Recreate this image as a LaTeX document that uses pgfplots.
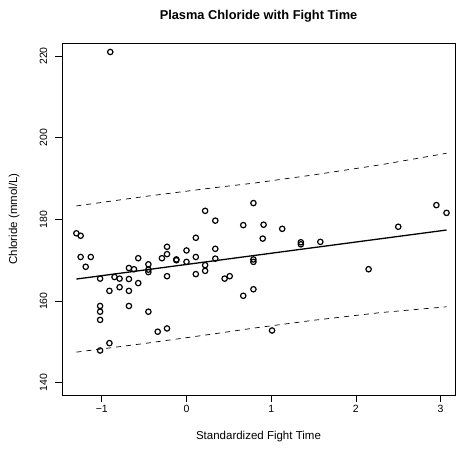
\documentclass[border=0pt]{standalone}
\usepackage{fontspec}
\setmainfont{Liberation Sans}
\usepackage{pgfplots}
\pgfplotsset{compat=1.18}

\begin{document}
\begin{tikzpicture}
\begin{axis}[
    at={(0,0)}, anchor=south west,
    scale only axis,
    width=393pt, height=352pt,
    xmin=-1.47, xmax=3.17,
    ymin=137, ymax=223.2,
    axis line style={line width=0.9pt},
    tick style={line width=0.8pt, black},
    tick align=outside,
    major tick length=6.5pt,
    xtick pos=bottom, ytick pos=left,
    xtick={-1,0,1,2,3},
    xticklabels={−1,0,1,2,3},
    ytick={140,160,180,200,220},
    yticklabels={140,160,180,200,220},
    ticklabel style={font=\fontsize{10.5}{12}\selectfont},
    yticklabel style={rotate=90, anchor=center},
    yticklabel shift=12pt,
    xticklabel style={anchor=north},
    title={\bfseries Plasma Chloride with Fight Time},
    title style={at={(axis description cs:0.5,1)}, anchor=center, yshift=21pt, font=\fontsize{12.8}{15}\selectfont},
    xlabel={Standardized Fight Time},
    xlabel style={at={(axis description cs:0.5,0)}, anchor=center, yshift=-42pt, font=\fontsize{11.5}{13}\selectfont},
    ylabel={Chloride (mmol/L)},
    ylabel style={at={(axis description cs:-0.122,0.5)}, anchor=center, font=\fontsize{11.5}{13}\selectfont},
]
% observations
\addplot[only marks, mark=o, mark size=2.7pt, mark options={line width=1.2pt, black}] coordinates {
(-1.30,176.6)(-1.25,176.0)(-1.25,170.8)(-1.13,170.8)(-1.19,168.4)
(-1.02,165.5)(-1.02,158.8)(-1.02,157.4)(-1.02,155.4)(-1.02,147.9)
(-0.91,162.5)(-0.91,149.7)(-0.85,165.9)(-0.79,165.5)(-0.79,163.4)
(-0.68,168.1)(-0.68,165.4)(-0.68,162.5)(-0.68,158.8)(-0.62,167.8)
(-0.57,170.5)(-0.57,164.4)(-0.45,169.0)(-0.45,167.7)(-0.45,167.1)
(-0.45,157.4)(-0.34,152.5)(-0.29,170.5)(-0.23,173.3)(-0.23,171.5)
(-0.23,166.1)(-0.23,153.3)(-0.12,170.2)(-0.12,170.0)(0.00,172.4)
(0.00,169.6)(0.11,175.5)(0.11,170.8)(0.11,166.6)(0.22,182.1)
(0.34,179.7)(0.22,168.8)(0.22,167.4)(0.34,172.8)(0.34,170.4)
(0.45,165.5)(0.51,166.1)(0.67,178.6)(0.67,161.3)(0.79,184.0)
(0.79,170.2)(0.79,169.6)(0.79,162.9)(-0.90,221.0)
(0.91,178.7)(0.90,175.3)(1.13,177.7)(1.35,174.4)(1.35,173.9)
(1.58,174.5)(2.15,167.8)(2.50,178.2)(2.95,183.5)(3.07,181.6)
(1.01,152.8)
};
% fitted line
\addplot[black, line width=1.3pt] coordinates {(-1.30,165.4)(3.07,177.4)};
% prediction band
\addplot[black, line width=0.7pt, dash pattern=on 5pt off 5pt] coordinates {
(-1.30,183.3)(-0.5,185.6)(0.3,187.7)(0.8,188.9)(1.5,190.9)(2.3,193.4)(3.07,196.2)};
\addplot[black, line width=0.7pt, dash pattern=on 5pt off 5pt] coordinates {
(-1.30,147.5)(-0.5,149.6)(0.3,151.9)(0.8,153.4)(1.5,155.3)(2.3,157.2)(3.07,158.6)};
\end{axis}
\pgfresetboundingbox
\useasboundingbox (-62pt,-61pt) rectangle (398pt,395pt);
\end{tikzpicture}
\end{document}
